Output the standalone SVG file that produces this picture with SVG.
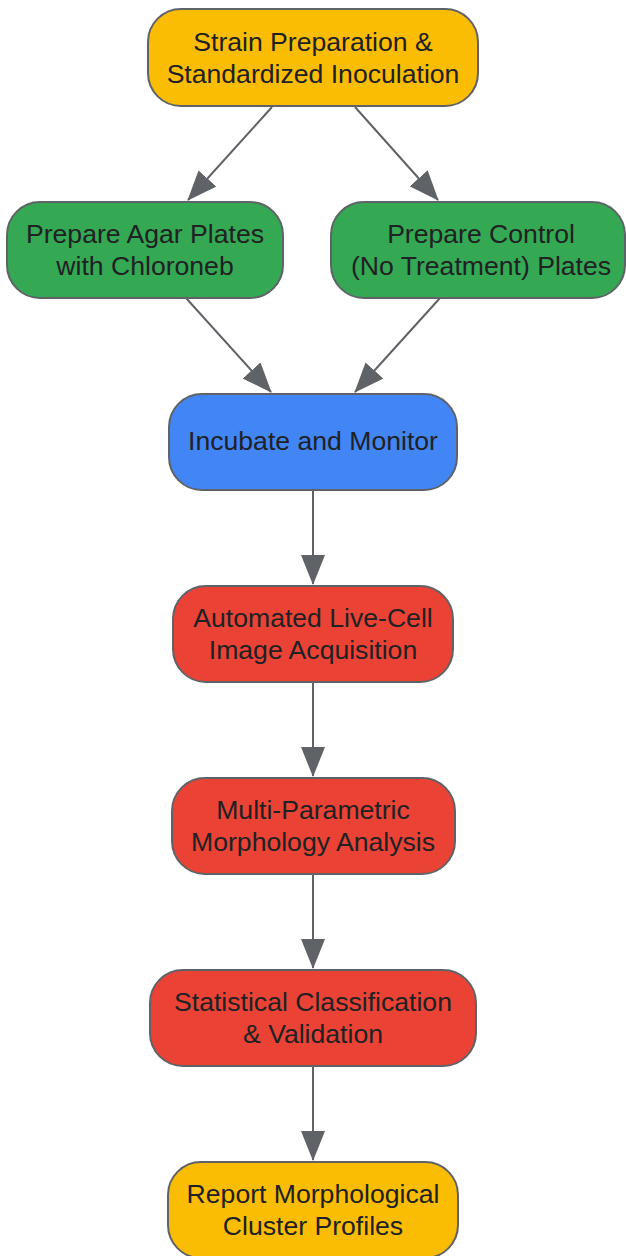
<svg xmlns="http://www.w3.org/2000/svg" width="626" height="1256" viewBox="0 0 626 1256">
<defs>
<style>
.node rect{stroke:#5f6368;stroke-width:2}
.yellow rect{fill:#fbbc04}
.green rect{fill:#34a853}
.blue rect{fill:#4285f4}
.red rect{fill:#ea4335}
text{font-family:"Liberation Sans",Arial,sans-serif;font-size:26.6px;fill:#202124;text-anchor:middle}
.edges line{stroke:#5f6368;stroke-width:2;fill:none}
</style>
<marker id="arrow" markerUnits="userSpaceOnUse" markerWidth="30" markerHeight="24" viewBox="0 0 30 24" refX="29" refY="12" orient="auto">
<path d="M0,0 L30,12 L0,24 z" fill="#5f6368"/>
</marker>
</defs>
<rect width="626" height="1256" fill="#ffffff"/>
<g class="edges">
<line x1="272" y1="107" x2="188" y2="200" marker-end="url(#arrow)"/>
<line x1="355" y1="107" x2="438" y2="200" marker-end="url(#arrow)"/>
<line x1="186" y1="298" x2="271" y2="392" marker-end="url(#arrow)"/>
<line x1="440" y1="298" x2="355" y2="392" marker-end="url(#arrow)"/>
<line x1="313" y1="490" x2="313" y2="584" marker-end="url(#arrow)"/>
<line x1="313" y1="682" x2="313" y2="776" marker-end="url(#arrow)"/>
<line x1="313" y1="874" x2="313" y2="968" marker-end="url(#arrow)"/>
<line x1="313" y1="1066" x2="313" y2="1160" marker-end="url(#arrow)"/>
</g>
<g id="n1" class="node yellow">
<rect x="148" y="9" width="330" height="97" rx="33"/>
<text x="313" y="51">Strain Preparation &amp;</text>
<text x="313" y="83">Standardized Inoculation</text>
</g>
<g id="n2" class="node green">
<rect x="7" y="202" width="276" height="96" rx="33"/>
<text x="145" y="243">Prepare Agar Plates</text>
<text x="145" y="275">with Chloroneb</text>
</g>
<g id="n3" class="node green">
<rect x="331" y="202" width="294" height="96" rx="33"/>
<text x="481" y="243">Prepare Control</text>
<text x="481" y="275">(No Treatment) Plates</text>
</g>
<g id="n4" class="node blue">
<rect x="169" y="394" width="288" height="96" rx="33"/>
<text x="313" y="450">Incubate and Monitor</text>
</g>
<g id="n5" class="node red">
<rect x="173" y="586" width="280" height="96" rx="33"/>
<text x="313" y="627">Automated Live-Cell</text>
<text x="313" y="659">Image Acquisition</text>
</g>
<g id="n6" class="node red">
<rect x="172" y="778" width="283" height="96" rx="33"/>
<text x="313" y="819">Multi-Parametric</text>
<text x="313" y="851">Morphology Analysis</text>
</g>
<g id="n7" class="node red">
<rect x="150" y="970" width="326" height="96" rx="33"/>
<text x="313" y="1011">Statistical Classification</text>
<text x="313" y="1043">&amp; Validation</text>
</g>
<g id="n8" class="node yellow">
<rect x="168" y="1162" width="290" height="96" rx="33"/>
<text x="313" y="1203">Report Morphological</text>
<text x="313" y="1235">Cluster Profiles</text>
</g>
</svg>
